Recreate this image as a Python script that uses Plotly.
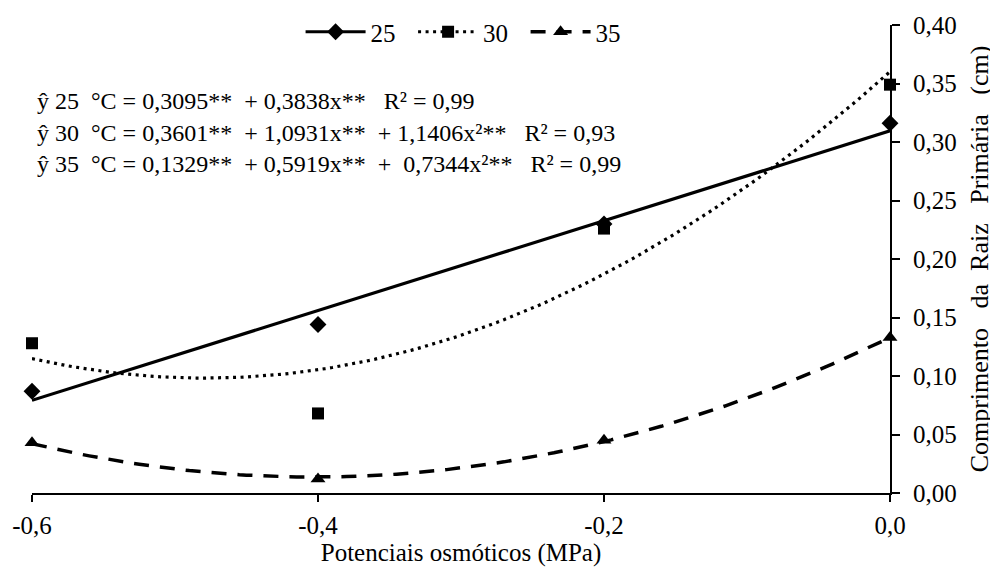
import numpy as np
import plotly.graph_objects as go

# ---- data ----
potenciais = [-0.6, -0.4, -0.2, 0.0]
y25 = [0.087, 0.144, 0.230, 0.316]
y30 = [0.128, 0.068, 0.226, 0.349]
y35 = [0.043, 0.012, 0.045, 0.133]

# regression coefficients printed on the chart (a, b, c) for y = a + b x + c x^2
coef25 = [0.3095, 0.3838, 0.0]
coef30 = [0.3601, 1.0931, 1.1406]
coef35 = [0.1329, 0.5919, 0.7344]

equations = [
    "ŷ 25  °C = 0,3095**  + 0,3838x**   R² = 0,99",
    "ŷ 30  °C = 0,3601**  + 1,0931x**  + 1,1406x²**   R² = 0,93",
    "ŷ 35  °C = 0,1329**  + 0,5919x**  +  0,7344x²**   R² = 0,99",
]
series_names = ["25", "30", "35"]
x_ticks = [-0.6, -0.4, -0.2, 0.0]
x_ticklabels = ["-0,6", "-0,4", "-0,2", "0,0"]
y_ticks = [0.0, 0.05, 0.10, 0.15, 0.20, 0.25, 0.30, 0.35, 0.40]
y_ticklabels = ["0,00", "0,05", "0,10", "0,15", "0,20", "0,25", "0,30", "0,35", "0,40"]

FONT = "Times New Roman, Liberation Serif, DejaVu Serif, serif"

xs = np.linspace(-0.6, 0.0, 121)


def curve(c):
    return c[0] + c[1] * xs + c[2] * xs ** 2


def nbsp(s):
    return s.replace("  ", "\u00a0\u00a0").replace("\u00a0 ", "\u00a0\u00a0")


styles = [
    dict(symbol="diamond", dash="solid", width=3.2, size=13),
    dict(symbol="square", dash="3px,4.5px", width=3.2, size=12),
    dict(symbol="triangle-up", dash="15px,11px", width=3.5, size=13),
]

fig = go.Figure()
for name, ys, c, st in zip(series_names, [y25, y30, y35], [coef25, coef30, coef35], styles):
    fig.add_trace(go.Scatter(x=xs, y=curve(c), mode="lines",
                             line=dict(color="black", width=st["width"], dash=st["dash"]),
                             showlegend=False, hoverinfo="skip"))
    fig.add_trace(go.Scatter(x=potenciais, y=ys, mode="markers",
                             marker=dict(symbol=st["symbol"], size=st["size"], color="black"),
                             showlegend=False, cliponaxis=False))
    fig.add_trace(go.Scatter(x=[None], y=[None], mode="lines+markers", name=name + "\u00a0\u00a0",
                             line=dict(color="black", width=st["width"], dash=st["dash"]),
                             marker=dict(symbol=st["symbol"], size=st["size"], color="black")))

for i, t in enumerate(equations):
    fig.add_annotation(xref="paper", yref="paper", x=0.004, y=[0.838, 0.770, 0.702][i],
                       xanchor="left", yanchor="middle", showarrow=False,
                       text=nbsp(t), font=dict(family=FONT, size=24, color="black"))

fig.update_layout(
    width=998, height=574,
    margin=dict(l=24, r=116, t=17, b=89, autoexpand=False),
    paper_bgcolor="white", plot_bgcolor="white",
    font=dict(family=FONT, size=22, color="black"),
    legend=dict(orientation="h", x=0.51, xanchor="center", y=0.985, yanchor="middle",
                font=dict(family=FONT, size=25, color="black"),
                itemwidth=60, bgcolor="rgba(0,0,0,0)", tracegroupgap=0),
    xaxis=dict(range=[-0.6, 0.0], tickvals=x_ticks, ticktext=x_ticklabels,
               showgrid=False, zeroline=False, showline=True, linecolor="black", linewidth=2,
               ticks="outside", ticklen=7, tickwidth=2, tickcolor="black",
               tickfont=dict(family=FONT, size=25), automargin=False, ticklabelstandoff=2,
               title=dict(text="\u00a0" * 8 + "Potenciais osmóticos (MPa)",
                          font=dict(family=FONT, size=25), standoff=4)),
    yaxis=dict(range=[0.0, 0.40], side="right", tickvals=y_ticks, ticktext=y_ticklabels,
               showgrid=False, zeroline=False, showline=True, linecolor="black", linewidth=2,
               ticks="outside", ticklen=8, tickwidth=2, tickcolor="black",
               tickfont=dict(family=FONT, size=25), automargin=False, ticklabelstandoff=8,
               title=dict(text=nbsp("Comprimento   da  Raiz   Primária   (cm)"),
                          font=dict(family=FONT, size=26), standoff=14)),
)

fig.write_html("out.html")
